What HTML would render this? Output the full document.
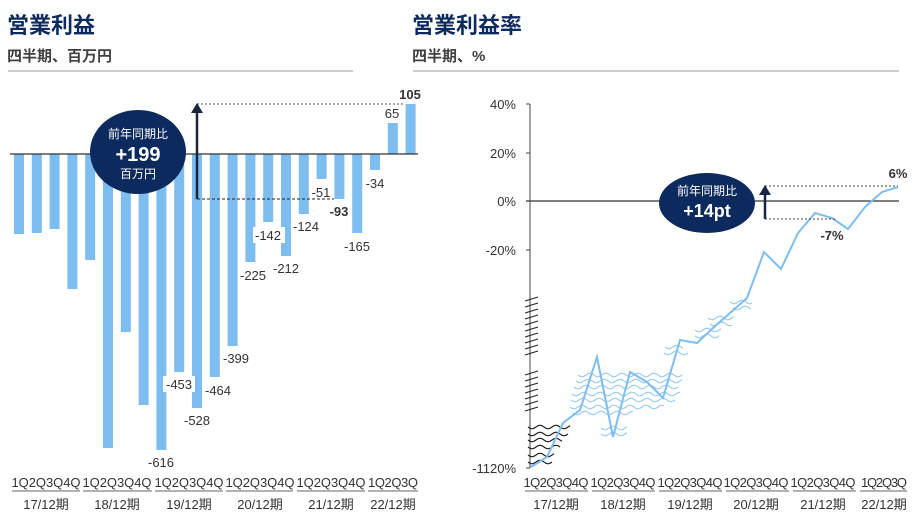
<!DOCTYPE html>
<html><head><meta charset="utf-8">
<style>
body{margin:0;background:#fff;width:922px;height:515px;overflow:hidden}
svg{display:block}
text{font-family:"Liberation Sans","Noto Sans CJK JP",sans-serif}
</style></head><body>
<svg id="s" width="922" height="515" viewBox="0 0 922 515" xmlns="http://www.w3.org/2000/svg">
<text x="7" y="33" font-size="22" font-weight="bold" fill="#0d2a5e">営業利益</text>
<text x="7" y="61" font-size="15" font-weight="bold" fill="#404040">四半期、百万円</text>
<line x1="8" y1="71" x2="353" y2="71" stroke="#bbb" stroke-width="1.5"/>
<text x="412" y="33" font-size="22" font-weight="bold" fill="#0d2a5e">営業利益率</text>
<text x="412" y="61" font-size="15" font-weight="bold" fill="#404040">四半期、%</text>
<line x1="413" y1="71" x2="899" y2="71" stroke="#bbb" stroke-width="1.5"/>

<g fill="#7dbdf0">
<rect x="14" y="154" width="10" height="80"/>
<rect x="31.8" y="154" width="10" height="79"/>
<rect x="49.6" y="154" width="10" height="75"/>
<rect x="67.4" y="154" width="10" height="135"/>
<rect x="85.2" y="154" width="10" height="106"/>
<rect x="103" y="154" width="10" height="294"/>
<rect x="120.8" y="154" width="10" height="178"/>
<rect x="138.6" y="154" width="10" height="251"/>
<rect x="156.4" y="154" width="10" height="296"/>
<rect x="174.2" y="154" width="10" height="218"/>
<rect x="192" y="154" width="10" height="254"/>
<rect x="209.8" y="154" width="10" height="223"/>
<rect x="227.6" y="154" width="10" height="192"/>
<rect x="245.4" y="154" width="10" height="108"/>
<rect x="263.2" y="154" width="10" height="68"/>
<rect x="281" y="154" width="10" height="102"/>
<rect x="298.8" y="154" width="10" height="60"/>
<rect x="316.6" y="154" width="10" height="25"/>
<rect x="334.4" y="154" width="10" height="45"/>
<rect x="352.2" y="154" width="10" height="79"/>
<rect x="370" y="154" width="10" height="16"/>
<rect x="387.8" y="123" width="10" height="31"/>
<rect x="405.6" y="104" width="10" height="50"/>
</g>
<line x1="10" y1="154" x2="418" y2="154" stroke="#333" stroke-width="1.2"/>
<line x1="197" y1="104" x2="405" y2="104" stroke="#555" stroke-width="1" stroke-dasharray="2,2"/>
<line x1="197" y1="199" x2="334" y2="199" stroke="#222" stroke-width="1" stroke-dasharray="3,2"/>
<line x1="197" y1="199" x2="197" y2="112" stroke="#1a2540" stroke-width="2.5"/>
<polygon points="191,113 203,113 197,103" fill="#1a2540"/>
<ellipse cx="138" cy="152" rx="48" ry="42" fill="#0d2a5e"/>
<text x="138" y="138" font-size="12" fill="#fff" text-anchor="middle">前年同期比</text>
<text x="138" y="161" font-size="20" font-weight="bold" fill="#fff" text-anchor="middle">+199</text>
<text x="138" y="178" font-size="12" fill="#fff" text-anchor="middle">百万円</text>
<g font-size="13" fill="#333" text-anchor="middle">
<rect x="163" y="376" width="32" height="16" fill="#fff"/>
<rect x="253" y="227" width="32" height="16" fill="#fff"/>
<text x="161" y="467">-616</text>
<text x="179" y="389">-453</text>
<text x="197" y="425">-528</text>
<text x="218" y="395">-464</text>
<text x="236" y="363">-399</text>
<text x="253" y="280">-225</text>
<text x="286" y="273">-212</text>
<text x="268" y="240">-142</text>
<text x="306" y="231">-124</text>
<text x="339" y="216" font-weight="bold">-93</text>
<text x="321" y="197">-51</text>
<text x="357" y="251">-165</text>
<text x="375" y="188">-34</text>
<text x="392" y="118">65</text>
<text x="410" y="99" font-weight="bold">105</text>
</g>
<g font-size="13" fill="#333" text-anchor="middle">
<text x="46" y="487" textLength="69">1Q2Q3Q4Q</text>
<text x="117" y="487" textLength="69">1Q2Q3Q4Q</text>
<text x="189" y="487" textLength="69">1Q2Q3Q4Q</text>
<text x="260" y="487" textLength="69">1Q2Q3Q4Q</text>
<text x="331" y="487" textLength="69">1Q2Q3Q4Q</text>
<text x="393" y="487" textLength="50">1Q2Q3Q</text>
<text x="46" y="509">17/12期</text>
<text x="117" y="509">18/12期</text>
<text x="189" y="509">19/12期</text>
<text x="260" y="509">20/12期</text>
<text x="331" y="509">21/12期</text>
<text x="393" y="509">22/12期</text>
</g>
<g stroke="#666" stroke-width="1">
<line x1="12" y1="491" x2="80" y2="491"/><line x1="83" y1="491" x2="152" y2="491"/>
<line x1="155" y1="491" x2="223" y2="491"/><line x1="226" y1="491" x2="293" y2="491"/>
<line x1="297" y1="491" x2="365" y2="491"/><line x1="368" y1="491" x2="418" y2="491"/>
</g>

<g font-size="13" fill="#333" text-anchor="end">
<text x="516" y="109">40%</text>
<text x="516" y="158">20%</text>
<text x="516" y="206">0%</text>
<text x="516" y="255">-20%</text>
<text x="516" y="473">-1120%</text>
</g>
<line x1="530" y1="104" x2="530" y2="468" stroke="#444" stroke-width="1"/>
<g stroke="#444" stroke-width="1">
<line x1="526" y1="104" x2="530" y2="104"/><line x1="526" y1="153" x2="530" y2="153"/>
<line x1="526" y1="250" x2="530" y2="250"/><line x1="526" y1="468" x2="530" y2="468"/>
</g>
<line x1="526" y1="201" x2="899" y2="201" stroke="#333" stroke-width="1.2"/>
<g id="waves"></g>
<polyline fill="none" stroke="#7dbdf0" stroke-width="2" points="531,467 547,457 563,423 580,410 597,357 613,437 630,372 647,382 663,398 680,340 697,343 713,328 730,313 747,298 764,252 781,269 798,233 815,213 832,218 848,229 865,207 882,192 898,187"/>
<line x1="765" y1="186" x2="898" y2="186" stroke="#444" stroke-width="1" stroke-dasharray="2,2"/>
<line x1="765" y1="219" x2="835" y2="219" stroke="#444" stroke-width="1" stroke-dasharray="2,2"/>
<line x1="765" y1="219" x2="765" y2="194" stroke="#1a2540" stroke-width="2.5"/>
<polygon points="759,195 771,195 765,185" fill="#1a2540"/>
<ellipse cx="707" cy="203" rx="48" ry="30" fill="#0d2a5e"/>
<text x="707" y="195" font-size="12" fill="#fff" text-anchor="middle">前年同期比</text>
<text x="707" y="217" font-size="18" font-weight="bold" fill="#fff" text-anchor="middle">+14pt</text>
<text x="832" y="240" font-size="13" font-weight="bold" fill="#333" text-anchor="middle">-7%</text>
<text x="898" y="178" font-size="13" font-weight="bold" fill="#333" text-anchor="middle">6%</text>
<g font-size="13" fill="#333" text-anchor="middle">
<text x="556" y="487" textLength="65">1Q2Q3Q4Q</text>
<text x="623" y="487" textLength="65">1Q2Q3Q4Q</text>
<text x="690" y="487" textLength="65">1Q2Q3Q4Q</text>
<text x="756" y="487" textLength="65">1Q2Q3Q4Q</text>
<text x="823" y="487" textLength="65">1Q2Q3Q4Q</text>
<text x="884" y="487" textLength="46">1Q2Q3Q</text>
<text x="556" y="509">17/12期</text>
<text x="623" y="509">18/12期</text>
<text x="690" y="509">19/12期</text>
<text x="756" y="509">20/12期</text>
<text x="823" y="509">21/12期</text>
<text x="884" y="509">22/12期</text>
</g>
<g stroke="#666" stroke-width="1">
<line x1="525" y1="491" x2="588" y2="491"/><line x1="592" y1="491" x2="655" y2="491"/>
<line x1="659" y1="491" x2="722" y2="491"/><line x1="726" y1="491" x2="789" y2="491"/>
<line x1="793" y1="491" x2="856" y2="491"/><line x1="860" y1="491" x2="907" y2="491"/>
</g>
</svg>
<script>
var g=document.getElementById('waves'),ns='http://www.w3.org/2000/svg';
function wave(x1,x2,y,col,amp){var d='M'+x1+' '+y;for(var x=x1;x<=x2;x+=2){d+=' L'+x+' '+(y+amp*Math.sin((x-x1)/16*2*Math.PI)).toFixed(1);}
var p=document.createElementNS(ns,'path');p.setAttribute('d',d);p.setAttribute('fill','none');p.setAttribute('stroke',col);p.setAttribute('stroke-width','1.2');g.appendChild(p);}
var lb='#9ccdf4';
[[578,683,375],[576,683,381],[574,678,387],[572,680,394],[571,675,400],[570,665,407],[573,633,413],[601,628,428],[601,627,434],[665,683,347],[664,688,353],[695,722,330],[695,720,336],[708,735,318],[710,733,324],[730,752,302],[733,752,308]].forEach(function(a){wave(a[0],a[1],a[2],lb,1.8);});
[[528,571,427],[528,568,434],[528,563,440],[528,560,447],[528,555,455],[528,552,462]].forEach(function(a){wave(a[0],a[1],a[2],'#222',1.8);});
function slash(y){var l=document.createElementNS(ns,'line');l.setAttribute('x1',525);l.setAttribute('x2',538);l.setAttribute('y1',y+2);l.setAttribute('y2',y-2);l.setAttribute('stroke','#222');l.setAttribute('stroke-width','1');g.appendChild(l);}
for(var y=299;y<=353;y+=6)slash(y);
for(var y=373;y<=410;y+=6)slash(y);
</script>
</body></html>
